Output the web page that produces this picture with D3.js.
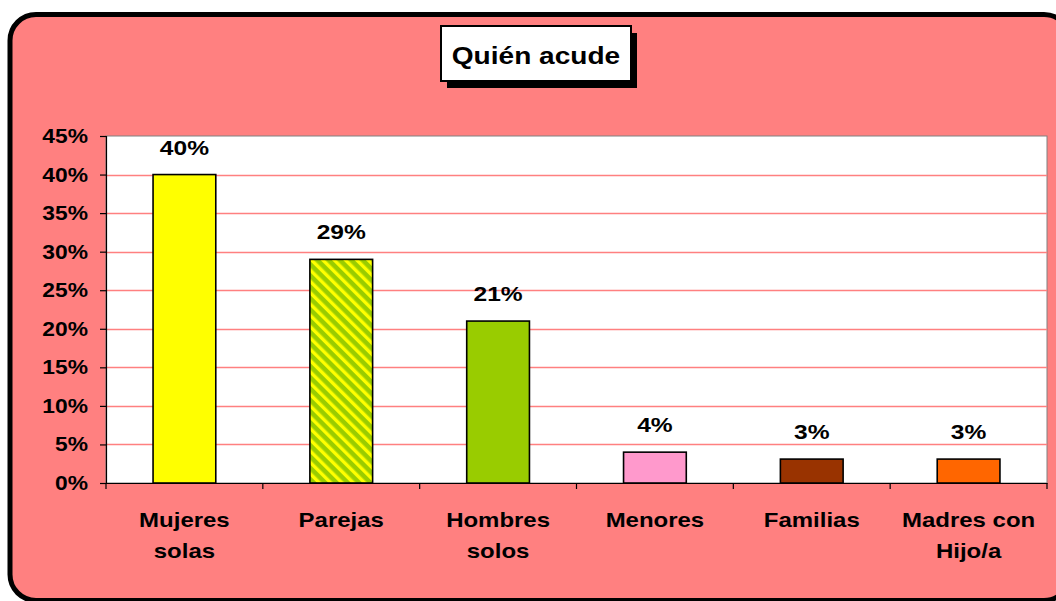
<!DOCTYPE html>
<html>
<head>
<meta charset="utf-8">
<script src="https://cdn.jsdelivr.net/npm/d3@7"></script>
<style>
  body { margin: 0; background: #fff; }
  text { font-family: "Liberation Sans", Arial, sans-serif; font-weight: bold; fill: #000; }
</style>
</head>
<body>
<div id="chart"></div>
<script>
// data
var categories = ["Mujeres\nsolas", "Parejas", "Hombres\nsolos", "Menores", "Familias", "Madres con\nHijo/a"];
var values = [0.40, 0.29, 0.21, 0.04, 0.031, 0.031];
var yTicks = [0, 0.05, 0.10, 0.15, 0.20, 0.25, 0.30, 0.35, 0.40, 0.45];
var title = "Quién acude";

var barFills = ["#FFFF00", "url(#hatch)", "#99CC00", "#FF99CC", "#993300", "#FF6600"];

var svgWidth = 1056;
var svgHeight = 601;
var margin = {top: 136, right: 9, bottom: 118, left: 106};
var width = svgWidth - margin.left - margin.right;
var height = svgHeight - margin.top - margin.bottom;
var stretch = 1.17; // the original font is drawn a bit wide

var svg = d3.select("#chart")
    .append("svg")
    .attr("width", svgWidth)
    .attr("height", svgHeight);

var defs = svg.append("defs");
var hatch = defs.append("pattern")
    .attr("id", "hatch")
    .attr("patternUnits", "userSpaceOnUse")
    .attr("width", 8)
    .attr("height", 10)
    .attr("patternTransform", "rotate(-45)");
hatch.append("rect").attr("width", 8).attr("height", 10).attr("fill", "#99CC00");
hatch.append("rect").attr("width", 3.4).attr("height", 10).attr("fill", "#FFFF00");

// outer chart area
svg.append("rect")
    .attr("x", 10)
    .attr("y", 14.5)
    .attr("width", 1060)
    .attr("height", 586)
    .attr("rx", 26)
    .attr("fill", "#FF8080")
    .attr("stroke", "#000")
    .attr("stroke-width", 5);

// title box with shadow
var tb = {x: 441, y: 26, w: 190, h: 55};
svg.append("rect")
    .attr("x", tb.x + 6).attr("y", tb.y + 7)
    .attr("width", tb.w).attr("height", tb.h)
    .attr("fill", "#000");
svg.append("rect")
    .attr("x", tb.x).attr("y", tb.y)
    .attr("width", tb.w).attr("height", tb.h)
    .attr("fill", "#fff")
    .attr("stroke", "#000")
    .attr("stroke-width", 2);
svg.append("text")
    .attr("transform", "translate(" + (tb.x + tb.w / 2) + ",64) scale(" + stretch + ",1)")
    .attr("text-anchor", "middle")
    .attr("font-size", "24px")
    .text(title);

var chart = svg.append("g")
    .attr("transform", "translate(" + margin.left + "," + margin.top + ")");

var x = d3.scaleBand()
    .domain(categories)
    .range([0, width])
    .paddingInner(0.6)
    .paddingOuter(0.3);

var y = d3.scaleLinear()
    .domain([0, 0.45])
    .range([height, 0]);

// plot area
chart.append("rect")
    .attr("width", width)
    .attr("height", height)
    .attr("fill", "#fff")
    .attr("stroke", "#808080")
    .attr("stroke-width", 1);

// gridlines
chart.append("g")
    .selectAll("line")
    .data(yTicks.filter(function(d) { return d > 0 && d < 0.45; }))
    .enter()
    .append("line")
    .attr("x1", 0)
    .attr("x2", width)
    .attr("y1", function(d) { return Math.round(y(d)) + 0.5; })
    .attr("y2", function(d) { return Math.round(y(d)) + 0.5; })
    .attr("stroke", "#FF8080")
    .attr("stroke-width", 1.5);

// bars
chart.selectAll(".bar")
    .data(values)
    .enter()
    .append("rect")
    .attr("class", "bar")
    .attr("x", function(d, i) { return x(categories[i]); })
    .attr("y", function(d) { return y(d); })
    .attr("width", x.bandwidth())
    .attr("height", function(d) { return height - y(d); })
    .attr("fill", function(d, i) { return barFills[i]; })
    .attr("stroke", "#000")
    .attr("stroke-width", 1.6);

// value labels
var fmt = d3.format(".0%");
chart.selectAll(".val")
    .data(values)
    .enter()
    .append("text")
    .attr("class", "val")
    .attr("transform", function(d, i) {
        return "translate(" + (x(categories[i]) + x.bandwidth() / 2) + "," + (y(d) - 20) + ") scale(" + stretch + ",1)";
    })
    .attr("text-anchor", "middle")
    .attr("font-size", "21px")
    .text(function(d) { return fmt(d); });

// y axis
var leftAxis = d3.axisLeft(y)
    .tickValues(yTicks)
    .tickSize(6)
    .tickPadding(0)
    .tickFormat(fmt);

var gy = chart.append("g").call(leftAxis);
gy.select(".domain").attr("stroke", "#000").attr("stroke-width", 1.2);
gy.selectAll(".tick line").attr("stroke", "#000").attr("stroke-width", 1.2);
gy.selectAll(".tick text")
    .attr("x", -18 / stretch)
    .attr("dy", "0.33em")
    .attr("transform", "scale(" + stretch + ",1)")
    .attr("font-family", null)
    .attr("font-size", "19.5px")
    .attr("fill", "#000");

// x axis (ticks sit between the categories)
var bottomAxis = d3.axisBottom(x).tickSize(0).tickFormat("");
var gx = chart.append("g")
    .attr("transform", "translate(0," + height + ")")
    .call(bottomAxis);
gx.select(".domain").attr("stroke", "#000").attr("stroke-width", 1.2);

var bounds = categories.map(function(c) {
    return x(c) - x.step() * x.paddingInner() / 2;
});
bounds[0] = 0;
bounds.push(width);
gx.selectAll(".bound")
    .data(bounds)
    .enter()
    .append("line")
    .attr("class", "bound")
    .attr("x1", function(d) { return d; })
    .attr("x2", function(d) { return d; })
    .attr("y1", 0)
    .attr("y2", 6)
    .attr("stroke", "#000")
    .attr("stroke-width", 1.2);

// category labels
var cat = chart.selectAll(".cat")
    .data(categories)
    .enter()
    .append("text")
    .attr("class", "cat")
    .attr("transform", function(d) {
        return "translate(" + (x(d) + x.bandwidth() / 2) + "," + (height + 44) + ") scale(" + stretch + ",1)";
    })
    .attr("text-anchor", "middle")
    .attr("font-size", "20.5px");

cat.selectAll("tspan")
    .data(function(d) { return d.split("\n"); })
    .enter()
    .append("tspan")
    .attr("x", 0)
    .attr("y", function(d, i) { return i * 31; })
    .text(function(d) { return d; });
</script>
</body>
</html>
